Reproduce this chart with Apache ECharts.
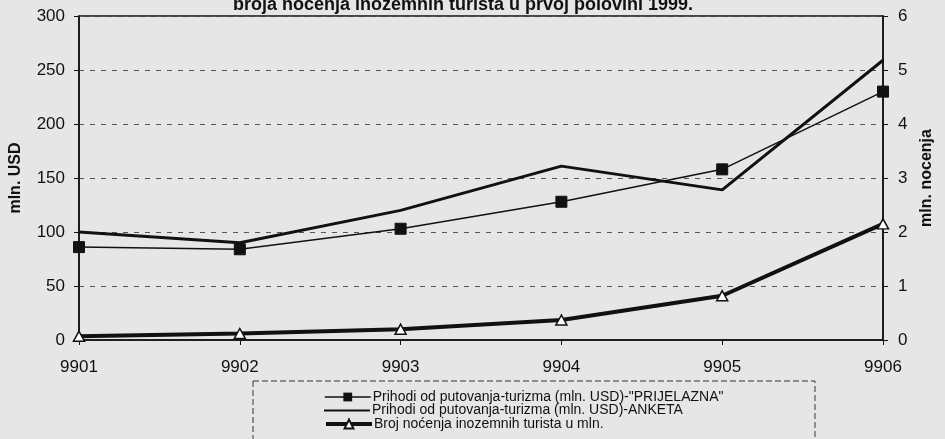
<!DOCTYPE html>
<html>
<head>
<meta charset="utf-8">
<script src="https://cdn.jsdelivr.net/npm/echarts@6/dist/echarts.min.js"></script>
<style>
html,body{margin:0;padding:0;background:#e6e6e6;}
#c{width:945px;height:439px;}
</style>
</head>
<body>
<div id="c"></div>
<script>
var categories = ['9901','9902','9903','9904','9905','9906'];
var prijelazna = [86, 84, 103, 128, 158, 230];
var anketa = [100, 90, 120, 161, 139, 259];
var nocenja = [0.07, 0.12, 0.2, 0.37, 0.82, 2.15];
var titleText = 'broja nocenja inozemnih turista u prvoj polovini 1999.';
var names = [
  'Prihodi od putovanja-turizma (mln. USD)-"PRIJELAZNA"',
  'Prihodi od putovanja-turizma (mln. USD)-ANKETA',
  'Broj noćenja inozemnih turista u mln.'
];

var chart = echarts.init(document.getElementById('c'), null, {renderer:'canvas'});
var font = 'Liberation Sans, Arial, sans-serif';
function leg(i, top, extra) {
  var o = {
    orient: 'horizontal', left: 324, top: top, itemGap: 0, itemWidth: 46, itemHeight: 11, padding: 0,
    textStyle: {fontSize: 14, fontFamily: font, color: '#111', padding: [0,0,0,-3]},
    data: [names[i]]
  };
  for (var k in extra) o[k] = extra[k];
  return o;
}
chart.setOption({
  backgroundColor: '#e6e6e6',
  animation: false,
  textStyle: {fontFamily: font, color: '#111'},
  grid: {left: 76, right: 62, top: 16, bottom: 99, show: true, borderColor: '#111', borderWidth: 1.5, backgroundColor: 'transparent'},
  graphic: [
    {type: 'text', style: {text: titleText, font: 'bold 18px ' + font, fill: '#111', x: 463, y: 14, textAlign: 'center', textVerticalAlign: 'bottom'}},
    {type: 'rect', shape: {x: 253, y: 381, width: 562, height: 80}, style: {fill: 'none', stroke: '#333', lineWidth: 1, lineDash: [6, 3]}, z: 1}
  ],
  legend: [
    leg(0, 390, {lineStyle: {width: 1.5}}),
    leg(1, 403.5, {itemHeight: 2, icon: 'rect'}),
    leg(2, 417, {lineStyle: {width: 4}})
  ],
  xAxis: {
    type: 'category', data: categories, boundaryGap: false,
    axisLine: {lineStyle: {color: '#111', width: 1.5}},
    axisTick: {show: true, alignWithLabel: true, length: 5, lineStyle: {color: '#111'}},
    axisLabel: {fontSize: 17, color: '#111', margin: 19}
  },
  yAxis: [
    {
      type: 'value', min: 0, max: 300, interval: 50, position: 'left',
      name: 'mln. USD', nameLocation: 'middle', nameRotate: 90, nameGap: 55,
      nameTextStyle: {fontSize: 16, fontWeight: 'bold', color: '#111'},
      axisLine: {show: true, lineStyle: {color: '#111', width: 1.5}},
      axisTick: {show: true, length: 5, lineStyle: {color: '#111'}},
      axisLabel: {fontSize: 17, color: '#111', margin: 14},
      splitLine: {show: true, lineStyle: {color: '#555', type: [5, 6], width: 1}}
    },
    {
      type: 'value', min: 0, max: 6, interval: 1, position: 'right',
      name: 'mln. nocenja', nameLocation: 'middle', nameRotate: 90, nameGap: 36,
      nameTextStyle: {fontSize: 16, fontWeight: 'bold', color: '#111'},
      axisLine: {show: true, lineStyle: {color: '#111', width: 1.5}},
      axisTick: {show: true, length: 5, lineStyle: {color: '#111'}},
      axisLabel: {fontSize: 17, color: '#111', margin: 15},
      splitLine: {show: false}
    }
  ],
  series: [
    {name: names[0], type: 'line', yAxisIndex: 0, data: prijelazna, symbol: 'rect', symbolSize: 11,
     lineStyle: {color: '#111', width: 1.5}, itemStyle: {color: '#111', borderColor: '#111'}, z: 3},
    {name: names[1], type: 'line', yAxisIndex: 0, data: anketa, symbol: 'none',
     lineStyle: {color: '#111', width: 3}, itemStyle: {color: '#111'}, z: 3},
    {name: names[2], type: 'line', yAxisIndex: 1, data: nocenja, symbol: 'triangle', symbolSize: [11, 10],
     lineStyle: {color: '#111', width: 4}, itemStyle: {color: '#fff', borderColor: '#111', borderWidth: 1.5}, z: 4}
  ]
});
</script>
</body>
</html>
